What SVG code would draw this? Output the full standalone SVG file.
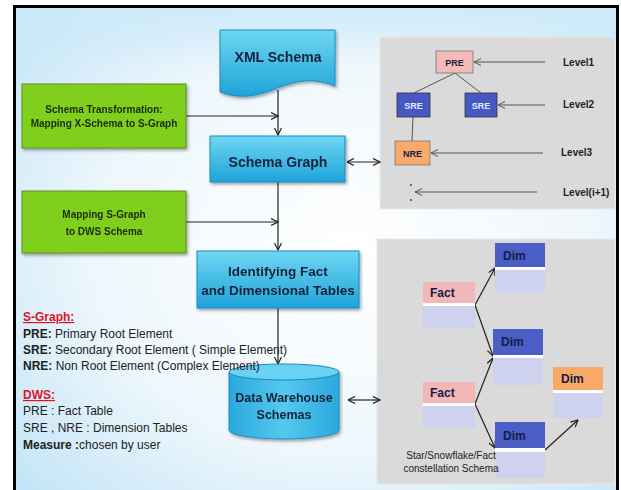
<svg xmlns="http://www.w3.org/2000/svg" width="621" height="490" viewBox="0 0 621 490">
<defs>
<radialGradient id="bg" cx="0.55" cy="0.5" r="0.75">
<stop offset="0" stop-color="#ffffff"/>
<stop offset="0.55" stop-color="#eef7fc"/>
<stop offset="1" stop-color="#bfe3f6"/>
</radialGradient>
<linearGradient id="topbg" x1="0" y1="0" x2="0" y2="1">
<stop offset="0" stop-color="#cdeafa" stop-opacity="0.9"/>
<stop offset="1" stop-color="#cdeafa" stop-opacity="0"/>
</linearGradient>
<linearGradient id="blue" x1="0" y1="0" x2="0" y2="1">
<stop offset="0" stop-color="#6fd6f2"/>
<stop offset="1" stop-color="#1ea3da"/>
</linearGradient>
<linearGradient id="cyl" x1="0" y1="0" x2="1" y2="0">
<stop offset="0" stop-color="#2aa9dc"/>
<stop offset="0.5" stop-color="#55c8ee"/>
<stop offset="1" stop-color="#2aa9dc"/>
</linearGradient>
<filter id="sh" x="-10%" y="-10%" width="130%" height="140%">
<feDropShadow dx="1.5" dy="2" stdDeviation="1.5" flood-color="#000" flood-opacity="0.35"/>
</filter>
<marker id="ah" viewBox="0 0 8 8" refX="7.5" refY="4" markerWidth="8" markerHeight="8" orient="auto-start-reverse" markerUnits="userSpaceOnUse">
<path d="M0.5,0.5 L7.5,4 L0.5,7.5" fill="none" stroke="#222" stroke-width="1.2"/>
</marker>
<marker id="ahg" viewBox="0 0 8 8" refX="7.5" refY="4" markerWidth="8" markerHeight="8" orient="auto" markerUnits="userSpaceOnUse">
<path d="M0.5,0.5 L7.5,4 L0.5,7.5" fill="none" stroke="#555" stroke-width="1"/>
</marker>
</defs>
<style>
.bt{font-family:"Liberation Sans",Arial,sans-serif;font-weight:bold;fill:#14223a;text-anchor:middle}
.gt{font-family:"Liberation Sans",Arial,sans-serif;font-weight:bold;font-size:10px;fill:#1e2a10;text-anchor:middle}
.blue{fill:url(#blue);stroke:#1a8cc0;stroke-width:1}
.green{fill:#80cf1c;stroke:#5b8f18;stroke-width:1}
.panel{fill:#dadada;stroke:#e8e8e8;stroke-width:1}
.ln{stroke:#222;stroke-width:1.2;fill:none}
.gl{stroke:#555;stroke-width:1;fill:none}
.lg{font-family:"Liberation Sans",Arial,sans-serif;font-size:12px;fill:#222}
.lv{font-family:"Liberation Sans",Arial,sans-serif;font-size:10px;fill:#222;font-weight:bold}
.sm{font-family:"Liberation Sans",Arial,sans-serif;font-size:9px;font-weight:bold;fill:#1a1a3a;text-anchor:middle}
.tb{font-family:"Liberation Sans",Arial,sans-serif;font-size:12px;font-weight:bold;fill:#151c48}
.dimh{fill:#4a5ec6}
.facth{fill:#f2b7b7}
.orh{fill:#f8a966}
.body{fill:#cfd2ee}
.sep{fill:#ffffff}
</style>

<rect x="0" y="0" width="621" height="490" fill="#ffffff"/>
<rect x="14" y="6" width="604" height="490" fill="url(#bg)"/>
<rect x="14" y="6" width="604" height="60" fill="url(#topbg)"/>
<rect x="14.5" y="6.5" width="603" height="490" fill="none" stroke="#000" stroke-width="3"/>

<g id="panel-top">
<rect class="panel" x="380" y="37" width="235" height="172"/>
</g>
<g id="panel-bottom">
<rect class="panel" x="377" y="239" width="238" height="245"/>
</g>

<g id="connectors">
<line class="ln" x1="278" y1="90" x2="278" y2="135" marker-end="url(#ah)"/>
<line class="ln" x1="186" y1="116" x2="278" y2="116" marker-end="url(#ah)"/>
<line class="ln" x1="278" y1="182" x2="278" y2="250" marker-end="url(#ah)"/>
<line class="ln" x1="186" y1="222" x2="278" y2="222" marker-end="url(#ah)"/>
<line class="ln" x1="278" y1="308" x2="278" y2="364" marker-end="url(#ah)"/>
<line class="ln" x1="347" y1="162" x2="380" y2="162" marker-start="url(#ah)" marker-end="url(#ah)"/>
<line class="ln" x1="348" y1="400" x2="380" y2="400" marker-start="url(#ah)" marker-end="url(#ah)"/>
<line class="gl" x1="455" y1="73" x2="414" y2="93"/>
<line class="gl" x1="455" y1="73" x2="481" y2="93"/>
<line class="gl" x1="413" y1="117" x2="412" y2="141"/>
<line class="gl" x1="545" y1="62" x2="474" y2="62" marker-end="url(#ahg)"/>
<line class="gl" x1="545" y1="105" x2="498" y2="105" marker-end="url(#ahg)"/>
<line class="gl" x1="543" y1="153" x2="431" y2="153" marker-end="url(#ahg)"/>
<line class="gl" x1="537" y1="192" x2="415" y2="192" marker-end="url(#ahg)"/>
<line class="ln" x1="475" y1="305" x2="495" y2="268" marker-end="url(#ah)"/>
<line class="ln" x1="475" y1="305" x2="493" y2="356" marker-end="url(#ah)"/>
<line class="ln" x1="475" y1="404" x2="493" y2="358" marker-end="url(#ah)"/>
<line class="ln" x1="475" y1="404" x2="495" y2="448" marker-end="url(#ah)"/>
<line class="ln" x1="545" y1="450" x2="578" y2="420" marker-end="url(#ah)"/>
</g>

<g id="xml-schema" filter="url(#sh)">
<path class="blue" d="M220,30 H335 V86 C310,76 292,82 272,90 C252,98 236,98 220,92 Z"/>
<text class="bt" x="278" y="62" font-size="14">XML Schema</text>
</g>

<g id="schema-transformation" filter="url(#sh)">
<rect class="green" x="22" y="84" width="164" height="64"/>
<text class="gt" x="104" y="113">Schema Transformation:</text>
<text class="gt" x="104" y="127">Mapping X-Schema to S-Graph</text>
</g>

<g id="schema-graph" filter="url(#sh)">
<rect class="blue" x="210" y="136" width="135" height="46"/>
<text class="bt" x="278" y="167" font-size="14">Schema Graph</text>
</g>

<g id="mapping-sgraph" filter="url(#sh)">
<rect class="green" x="22" y="191" width="164" height="62"/>
<text class="gt" x="104" y="218" font-size="11">Mapping S-Graph</text>
<text class="gt" x="104" y="235" font-size="11">to DWS Schema</text>
</g>

<g id="identifying" filter="url(#sh)">
<rect class="blue" x="197" y="251" width="162" height="57"/>
<text class="bt" x="278" y="276" font-size="13.5">Identifying Fact</text>
<text class="bt" x="278" y="295" font-size="13.5">and Dimensional Tables</text>
</g>

<g id="dws" filter="url(#sh)">
<path d="M229,372 V430 A55,9 0 0 0 339,430 V372 Z" fill="url(#cyl)" stroke="#1a8cc0" stroke-width="1"/>
<ellipse cx="284" cy="372" rx="55" ry="8" fill="#6ad2f2" stroke="#1a8cc0" stroke-width="1"/>
<text class="bt" x="284" y="402" font-size="12.5">Data Warehouse</text>
<text class="bt" x="284" y="419" font-size="12.5">Schemas</text>
</g>

<g id="legend">
<text class="lg" x="23" y="321" style="fill:#e0141e;font-weight:bold" text-decoration="underline">S-Graph:</text>
<text class="lg" x="23" y="338"><tspan font-weight="bold">PRE:</tspan> Primary Root Element</text>
<text class="lg" x="23" y="354"><tspan font-weight="bold">SRE:</tspan> Secondary Root Element ( Simple Element)</text>
<text class="lg" x="23" y="370"><tspan font-weight="bold">NRE:</tspan> Non Root Element (Complex Element)</text>
<text class="lg" x="23" y="399" style="fill:#e0141e;font-weight:bold" text-decoration="underline">DWS:</text>
<text class="lg" x="23" y="415">PRE : Fact Table</text>
<text class="lg" x="23" y="432">SRE , NRE  : Dimension Tables</text>
<text class="lg" x="23" y="449"><tspan font-weight="bold">Measure :</tspan>chosen by user</text>
</g>

<g id="pre">
<rect x="436" y="51" width="37" height="22" fill="#f4b9b9" stroke="#777" stroke-width="0.8"/>
<text class="sm" x="454.5" y="65.5">PRE</text>
</g>
<g id="sre1">
<rect x="397" y="93" width="33" height="24" fill="#4558c4" stroke="#333" stroke-width="0.8"/>
<text class="sm" x="413.5" y="108.5" style="fill:#e8eaff">SRE</text>
</g>
<g id="sre2">
<rect x="465" y="93" width="32" height="24" fill="#4558c4" stroke="#333" stroke-width="0.8"/>
<text class="sm" x="481" y="108.5" style="fill:#e8eaff">SRE</text>
</g>
<g id="nre">
<rect x="395" y="141" width="35" height="24" fill="#f9a96a" stroke="#777" stroke-width="0.8"/>
<text class="sm" x="412.5" y="156.5">NRE</text>
</g>
<g id="levels">
<text class="lv" x="563" y="66">Level1</text>
<text class="lv" x="563" y="108">Level2</text>
<text class="lv" x="561" y="156">Level3</text>
<text class="lv" x="563" y="196">Level(i+1)</text>
<circle cx="411" cy="185" r="0.9" fill="#333"/>
<circle cx="411" cy="200" r="0.9" fill="#333"/>
</g>

<g id="dim1">
<rect class="sep" x="495" y="267" width="50" height="3"/>
<rect class="dimh" x="495" y="243" width="50" height="24"/>
<rect class="body" x="495" y="270" width="50" height="23"/>
<text class="tb" x="503" y="260">Dim</text>
</g>
<g id="fact1">
<rect class="sep" x="423" y="303" width="52" height="3"/>
<rect class="facth" x="423" y="282" width="52" height="21"/>
<rect class="body" x="423" y="306" width="52" height="22"/>
<text class="tb" x="430" y="297">Fact</text>
</g>
<g id="dim2">
<rect class="sep" x="493" y="355" width="50" height="3"/>
<rect class="dimh" x="493" y="329" width="50" height="26"/>
<rect class="body" x="493" y="358" width="50" height="27"/>
<text class="tb" x="501" y="346">Dim</text>
</g>
<g id="fact2">
<rect class="sep" x="423" y="403" width="52" height="3"/>
<rect class="facth" x="423" y="382" width="52" height="21"/>
<rect class="body" x="423" y="406" width="52" height="22"/>
<text class="tb" x="430" y="397">Fact</text>
</g>
<g id="dim3">
<rect class="sep" x="553" y="390" width="50" height="3"/>
<rect class="orh" x="553" y="367" width="50" height="23"/>
<rect class="body" x="553" y="393" width="50" height="25"/>
<text class="tb" x="561" y="383">Dim</text>
</g>
<g id="dim4">
<rect class="sep" x="495" y="448" width="50" height="4"/>
<rect class="dimh" x="495" y="422" width="50" height="26"/>
<rect class="body" x="495" y="452" width="50" height="26"/>
<text class="tb" x="503" y="440">Dim</text>
</g>
<g id="schema-caption">
<text x="451" y="459" font-family="Liberation Sans, Arial, sans-serif" font-size="10" fill="#222" text-anchor="middle">Star/Snowflake/Fact</text>
<text x="451" y="472" font-family="Liberation Sans, Arial, sans-serif" font-size="10" fill="#222" text-anchor="middle">constellation Schema</text>
</g>
</svg>
